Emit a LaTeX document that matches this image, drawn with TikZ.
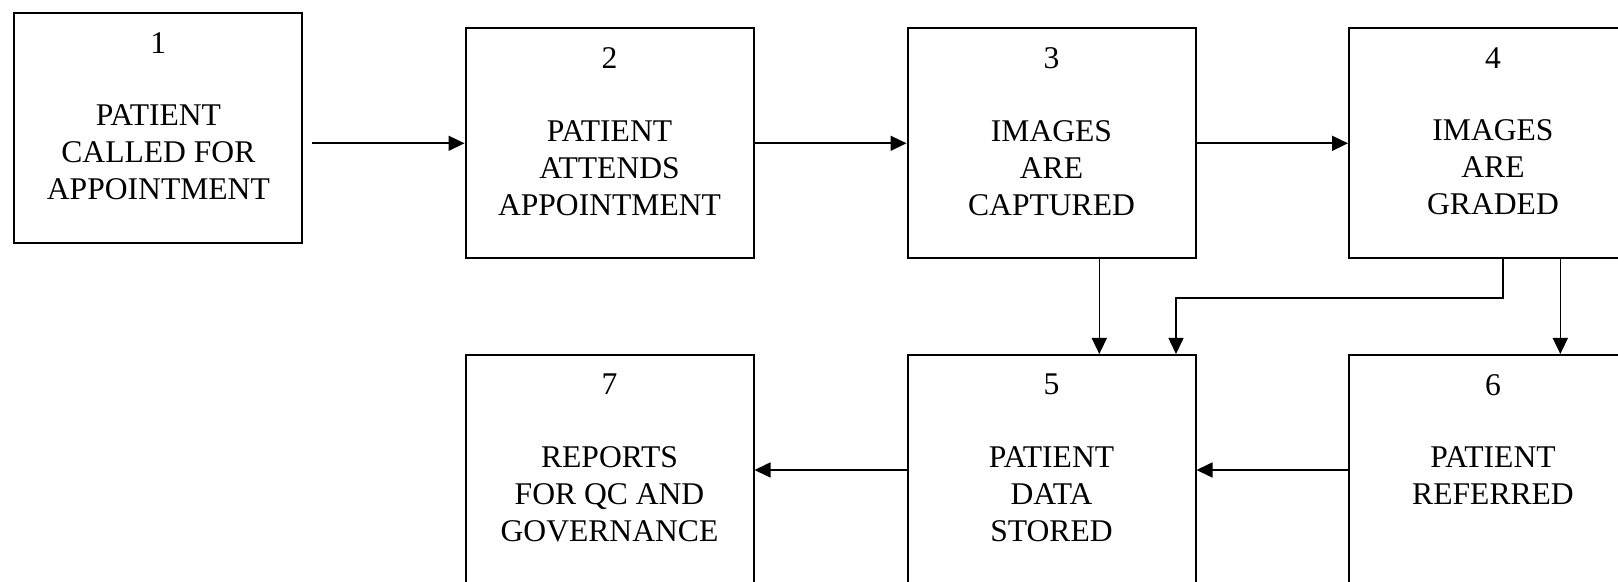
\documentclass[tikz,border=0pt]{standalone}
\usepackage{fontspec}
\setmainfont{Liberation Serif}
\usetikzlibrary{arrows.meta,calc}

% contents of one step box: number on top, then the caption lines
\newcommand{\steptext}[2]{%
  \parbox[c][115pt][t]{144pt}{\centering\vspace*{9.6pt}#1\\[17.8pt]#2}}

\begin{document}
\begin{tikzpicture}[
  x=0.5pt, y=-0.5pt,
  font=\fontsize{15.8pt}{18.5pt}\selectfont,
  stepbox/.style={draw, line width=1pt, inner sep=0pt,
    minimum width=144pt, minimum height=115pt},
  arr/.style={line width=0.8pt, -{Triangle[length=8pt,width=7.5pt]}}
]
\useasboundingbox (0,0) rectangle (1618,582);

% top row
\node[stepbox] (b1) at (158.4,128)   {\steptext{1}{PATIENT\\CALLED FOR\\APPOINTMENT}};
\node[stepbox] (b2) at (609.5,143.3) {\steptext{2}{PATIENT\\ATTENDS\\APPOINTMENT}};
\node[stepbox] (b3) at (1051.5,143.3){\steptext{3}{IMAGES\\ARE\\CAPTURED}};
\node[stepbox] (b4) at (1493,143.3)  {\steptext{4}{IMAGES\\ARE\\GRADED}};

% bottom row
\node[stepbox] (b7) at (609.5,470)   {\steptext{7}{REPORTS\\FOR QC AND\\GOVERNANCE}};
\node[stepbox] (b5) at (1051.5,470)  {\steptext{5}{PATIENT\\DATA\\STORED}};
\node[stepbox] (b6) at (1493,470)    {\steptext{6}{PATIENT\\REFERRED}};

% horizontal flow along the top
\coordinate (c12) at ($(b1.east)+(9,15.3)$);
\draw[arr] (c12) -- (b2.west);
\draw[arr] (b2.east) -- (b3.west);
\draw[arr] (b3.east) -- (b4.west);

% down into storage and referral
\draw[arr] ($(b3.south)+(47.8,0)$) -- ($(b5.north)+(47.8,0)$);
\draw[arr] ($(b4.south)+(9.7,0)$) -- ++(0,39) -| ($(b5.north)+(124.5,0)$);
\draw[arr] ($(b4.south)+(67.3,0)$) -- ($(b6.north)+(67.3,0)$);

% bottom row flows leftwards
\draw[arr] (b6.west) -- (b5.east);
\draw[arr] (b5.west) -- (b7.east);
\end{tikzpicture}
\end{document}
